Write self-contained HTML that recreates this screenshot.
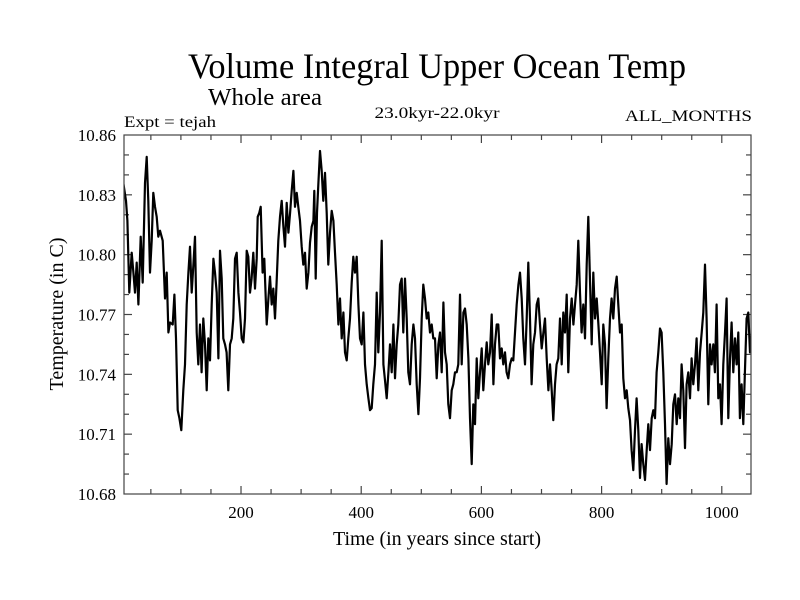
<!DOCTYPE html>
<html><head><meta charset="utf-8"><title>Volume Integral Upper Ocean Temp</title>
<style>
html,body{margin:0;padding:0;background:#fff;}
svg{display:block;font-family:"Liberation Serif",serif;}
</style></head>
<body>
<svg id="chart" width="800" height="600" viewBox="0 0 800 600" xmlns="http://www.w3.org/2000/svg">
<rect width="800" height="600" fill="#fff"/>
<text x="437" y="78" font-size="36" text-anchor="middle" textLength="498" lengthAdjust="spacingAndGlyphs">Volume Integral Upper Ocean Temp</text>
<text x="208" y="105" font-size="24" textLength="114" lengthAdjust="spacingAndGlyphs">Whole area</text>
<text x="124" y="127" font-size="16" textLength="92" lengthAdjust="spacingAndGlyphs">Expt = tejah</text>
<text x="437" y="118" font-size="16" text-anchor="middle" textLength="125" lengthAdjust="spacingAndGlyphs">23.0kyr-22.0kyr</text>
<text x="752" y="121" font-size="16" text-anchor="end" textLength="127" lengthAdjust="spacingAndGlyphs">ALL_MONTHS</text>
<text x="0" y="0" font-size="20" text-anchor="middle" transform="translate(63,314) rotate(-90)">Temperature (in C)</text>
<text x="437" y="545" font-size="20" text-anchor="middle">Time (in years since start)</text>
<g id="ticks"></g>
<defs><clipPath id="plotclip"><rect x="124" y="135" width="627" height="359"/></clipPath></defs>
<g id="series" clip-path="url(#plotclip)"></g>
<rect x="124" y="135" width="627" height="359" fill="none" stroke="#444" stroke-width="1.2"/>
</svg>
<script>
const xTickLabels = [200, 400, 600, 800, 1000];
const yTickLabels = ["10.68","10.71","10.74","10.77","10.80","10.83","10.86"];
const years = [
4.2,8.7,10.9,14.2,18.1,20.9,23.6,26.4,29.2,33.1,36.4,40.3,43,45.8,48.6,51.4,54.1,56.9,59.7,62.4,65.2,69.7,
73.5,76.3,79.1,81.9,86.3,89.1,91.8,94.6,97.4,100.7,104,106.8,109.6,112.4,115.1,117.9,120.7,123.5,126.2,129,131.8,134.5,137.3,140.1,142.9,145.6,148.4,151.2,154,156.7,159.5,162.3,165,167.8,170.6,173.4,176.1,178.9,181.7,184.5,187.2,190,192.8,195.6,198.3,201.1,203.9,206.6,209.4,212.2,215,217.7,220.5,223.3,226.1,227.7,230.5,232.7,236,238.8,242.7,245.5,248.2,251,253.8,256.6,259.3,262.1,
264.9,267.7,270.5,273.2,276,278.8,281.6,284.3,287.1,289.9,292.6,295.4,298.2,301,303.7,306.5,309.3,312.1,314.8,317.6,320.4,322,324.3,326.5,328.7,331.5,334.2,337,339.8,342.6,345.3,348.1,350.9,353.7,356.4,359.2,362,364.7,367.5,370.3,373.1,375.8,378.6,381.4,384.2,386.9,389.7,392.5,395.3,398,400.8,403.6,406.3,409.1,411.9,414.7,417.4,420.2,423,425.8,428.5,431.3,434.1,436.9,439.6,442.4,445.2,447.9,450.7,453.5,456.3,459,461.8,464.6,467.3,470.1,472.9,475.7,478.4,481.2,484,486.8,489.5,492.3,495.1,497.9,500.6,503.4,506.2,508.9,511.7,514.5,517.3,520,
522.8,525.6,528.4,531.1,533.9,536.7,539.4,542.2,545.0,547.8,550.5,553.3,556.1,558.9,561.6,564.4,567.2,570.0,572.7,575.5,578.3,581.0,583.8,586.6,589.4,592.1,594.9,597.7,600.5,603.2,606.0,608.8,611.5,614.3,617.1,619.9,622.6,625.4,628.2,631.0,633.7,636.5,639.3,642.0,644.8,647.6,650.4,653.1,655.9,658.7,661.5,664.2,667.0,669.8,672.6,675.3,678.1,680.9,683.6,686.4,689.2,692.0,694.7,697.5,700.3,703.1,705.8,708.6,711.4,714.1,716.9,719.7,722.5,725.2,728.0,730.8,733.6,736.3,739.1,741.9,744.6,747.4,750.2,753.0,755.7,758.5,761.3,764.1,766.8,769.6,772.4,775.2,777.9,
783.5,786.2,789.0,791.8,794.6,797.3,800.1,802.9,805.7,808.4,811.2,814.0,816.7,819.5,822.3,825.1,827.8,830.6,833.4,836.1,838.9,841.7,844.5,847.2,850.0,852.8,855.6,858.3,861.1,863.9,866.6,869.4,872.2,875.0,877.7,880.5,883.3,886.1,888.8,891.6,894.4,897.1,899.9,902.7,905.5,908.2,911.0,913.8,916.6,919.3,922.1,924.9,927.6,930.4,933.2,936.0,938.7,941.5,944.3,947.1,949.8,952.6,955.4,958.1,960.9,963.7,966.5,969.2,972.0,974.8,977.5,980.3,983.1,985.9,988.6,991.4,994.2,997.0,999.7,1002.5,1005.3,1008.0,1010.8,1013.6,1016.4,1019.1,1021.9,1024.7,1027.5,1030.2,1033.0,1035.8,1038.5,1041.3,1044.1,1046.9,1049.6
];
const temps = [
10.836,10.827,10.817,10.781,10.801,10.791,10.781,10.796,10.775,10.809,10.786,10.836,10.849,10.827,10.791,10.807,10.831,10.824,10.819,10.809,10.812,10.807,
10.778,10.791,10.761,10.766,10.765,10.780,10.758,10.722,10.718,10.712,10.732,10.745,10.775,10.791,10.804,10.781,10.795,10.809,10.761,10.745,10.765,10.741,10.768,10.755,10.732,10.758,10.747,10.775,10.798,10.791,10.781,10.748,10.802,10.788,10.758,10.755,10.751,10.732,10.755,10.758,10.768,10.798,10.801,10.781,10.771,10.758,10.756,10.768,10.802,10.799,10.781,10.788,10.801,10.783,10.798,10.819,10.821,10.824,10.791,10.798,10.765,10.778,10.789,10.775,10.783,10.768,10.786,10.807,
10.819,10.827,10.814,10.804,10.826,10.811,10.821,10.832,10.842,10.824,10.831,10.824,10.817,10.804,10.795,10.801,10.783,10.791,10.806,10.814,10.817,10.832,10.788,10.821,10.836,10.852,10.842,10.827,10.841,10.821,10.795,10.811,10.822,10.817,10.801,10.785,10.765,10.778,10.758,10.771,10.751,10.747,10.758,10.768,10.786,10.799,10.791,10.799,10.775,10.758,10.755,10.771,10.745,10.735,10.728,10.722,10.723,10.735,10.745,10.781,10.751,10.771,10.807,10.745,10.737,10.728,10.741,10.755,10.741,10.765,10.738,10.755,10.765,10.785,10.788,10.761,10.788,10.768,10.741,10.735,10.755,10.765,10.758,10.735,10.720,10.738,10.768,10.785,10.778,10.768,10.771,10.761,10.765,10.758,
10.758,10.738,10.755,10.761,10.741,10.776,10.751,10.745,10.725,10.718,10.732,10.735,10.741,10.741,10.745,10.780,10.745,10.771,10.773,10.765,10.748,10.718,10.695,10.725,10.715,10.748,10.728,10.741,10.753,10.732,10.745,10.756,10.745,10.751,10.770,10.735,10.755,10.765,10.765,10.748,10.753,10.745,10.751,10.741,10.738,10.745,10.748,10.747,10.761,10.775,10.785,10.791,10.778,10.758,10.745,10.768,10.796,10.768,10.735,10.755,10.761,10.775,10.778,10.765,10.753,10.761,10.768,10.748,10.732,10.745,10.732,10.717,10.735,10.745,10.748,10.768,10.745,10.771,10.761,10.780,10.741,10.768,10.778,10.765,10.775,10.785,10.807,10.781,10.761,10.775,10.758,10.795,10.819,
10.755,10.791,10.768,10.778,10.765,10.751,10.735,10.765,10.755,10.723,10.748,10.768,10.778,10.768,10.783,10.789,10.775,10.761,10.765,10.738,10.728,10.732,10.723,10.717,10.702,10.692,10.712,10.728,10.712,10.688,10.705,10.695,10.687,10.702,10.715,10.702,10.718,10.722,10.718,10.741,10.751,10.763,10.761,10.741,10.715,10.685,10.708,10.695,10.705,10.725,10.730,10.715,10.728,10.718,10.745,10.732,10.703,10.735,10.741,10.728,10.748,10.735,10.745,10.758,10.732,10.751,10.761,10.771,10.795,10.768,10.725,10.755,10.745,10.755,10.741,10.775,10.728,10.735,10.715,10.745,10.761,10.778,10.718,10.748,10.766,10.741,10.758,10.745,10.761,10.718,10.735,10.715,10.741,10.768,10.771,10.751,10.760
];
const X0 = 124, X1 = 751, Y0 = 494, Y1 = 135;
const XMIN = 5.3, XMAX = 1048.6, YMIN = 10.68, YMAX = 10.86;
function xScale(v){ return X0 + (v - XMIN) / (XMAX - XMIN) * (X1 - X0); }
function yScale(v){ return Y0 - (v - YMIN) / (YMAX - YMIN) * (Y0 - Y1); }
const NS = "http://www.w3.org/2000/svg";
const tg = document.getElementById('ticks');
function line(x1,y1,x2,y2,name){
  const l = document.createElementNS(NS,'line');
  l.setAttribute('x1',x1); l.setAttribute('y1',y1); l.setAttribute('x2',x2); l.setAttribute('y2',y2);
  l.setAttribute('stroke','#444'); l.setAttribute('stroke-width','1.2');
  
  
  tg.appendChild(l);
}
for (let v = 50; v <= 1048; v += 50) {
  const x = xScale(v);
  const major = v % 200 === 0;
  const len = major ? 8 : 5;
  line(x, Y0, x, Y0 - len, 'x-tick');
  line(x, Y1, x, Y1 + len, 'x-tick-top');
}
xTickLabels.forEach(v => {
  const t = document.createElementNS(NS,'text');
  t.setAttribute('x', xScale(v)); t.setAttribute('y', 518);
  t.setAttribute('font-size','17'); t.setAttribute('text-anchor','middle');
  t.textContent = v;
  
  
  tg.appendChild(t);
});
for (let i = 1; i < 18; i++) {
  const v = YMIN + i * 0.01;
  const y = yScale(v);
  const len = (i % 3 === 0) ? 8 : 5;
  line(X0, y, X0 + len, y, 'y-tick');
  line(X1, y, X1 - len, y, 'y-tick-right');
}
yTickLabels.forEach(s => {
  const t = document.createElementNS(NS,'text');
  t.setAttribute('x', 116); t.setAttribute('y', yScale(parseFloat(s)) + 6);
  t.setAttribute('font-size','17'); t.setAttribute('text-anchor','end');
  t.textContent = s;
  
  
  tg.appendChild(t);
});
const n = Math.min(years.length, temps.length);
let d = '';
for (let i = 0; i < n; i++) {
  d += (i ? 'L' : 'M') + xScale(years[i]).toFixed(1) + ',' + yScale(temps[i]).toFixed(1);
}
const p = document.createElementNS(NS,'path');
p.setAttribute('d', d);
p.setAttribute('fill','none'); p.setAttribute('stroke','#000'); p.setAttribute('stroke-width','2.2');
p.setAttribute('stroke-linejoin','round');


document.getElementById('series').appendChild(p);
</script>
</body></html>
